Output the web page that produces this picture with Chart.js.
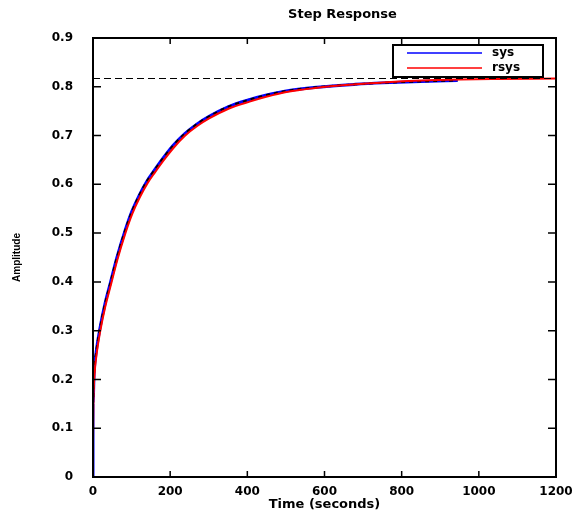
<!DOCTYPE html>
<html>
<head>
<meta charset="utf-8">
<title>Step Response</title>
<script src="https://cdn.jsdelivr.net/npm/chart.js@4/dist/chart.umd.min.js"></script>
<style>
  html, body { margin: 0; padding: 0; background: #fff; }
  #wrap { width: 575px; height: 515px; position: relative; }
</style>
</head>
<body>
<div id="wrap"><canvas id="stepChart"></canvas></div>
<script>
// ---------- Data ----------
const xTicks = [0, 200, 400, 600, 800, 1000, 1200];
const yTicks = [0, 0.1, 0.2, 0.3, 0.4, 0.5, 0.6, 0.7, 0.8, 0.9];

// sys (blue)
const sysTime = [0, 0, 3, 8, 18, 31, 44, 62, 83, 101, 120, 140, 160, 180, 208, 238, 270, 300, 350, 407, 450, 497, 580, 680, 750, 850, 945];
const sysAmp  = [0, 0.15, 0.215, 0.255, 0.305, 0.355, 0.395, 0.45, 0.505, 0.545, 0.578, 0.607, 0.630, 0.652, 0.68, 0.704, 0.724, 0.739, 0.759, 0.774, 0.783, 0.791, 0.799, 0.805, 0.808, 0.811, 0.813];

// rsys (red)
const rsysTime = [0, 1, 4, 9, 19, 32, 45, 63, 84, 102, 121, 141, 161, 181, 209, 239, 271, 301, 351, 408, 451, 498, 581, 681, 751, 851, 951, 1051, 1200];
const rsysAmp  = [0.07, 0.15, 0.21, 0.25, 0.30, 0.35, 0.39, 0.445, 0.50, 0.54, 0.573, 0.602, 0.625, 0.647, 0.675, 0.70, 0.72, 0.735, 0.755, 0.77, 0.780, 0.789, 0.798, 0.805, 0.809, 0.813, 0.815, 0.816, 0.817];

// steady-state level (black dashed)
const steadyTime = [0, 1200];
const steadyAmp  = [0.817, 0.817];

const pts = (xs, ys) => xs.map((x, i) => ({ x, y: ys[i] }));
const FONT = 'DejaVu Sans';

// ---------- Plugin: MATLAB-style box, inward ticks, title, legend ----------
const matlabFrame = {
  id: 'matlabFrame',
  afterDatasetsDraw(chart) {
    const { ctx, chartArea: a, scales } = chart;
    ctx.save();
    ctx.strokeStyle = '#000';
    ctx.lineWidth = 2;
    ctx.strokeRect(a.left, a.top, a.right - a.left, a.bottom - a.top);

    ctx.lineWidth = 1.5;
    ctx.beginPath();
    xTicks.forEach((v) => {
      const px = scales.x.getPixelForValue(v);
      ctx.moveTo(px, a.bottom); ctx.lineTo(px, a.bottom - 6);
      ctx.moveTo(px, a.top);    ctx.lineTo(px, a.top + 6);
    });
    yTicks.forEach((v) => {
      const py = scales.y.getPixelForValue(v);
      ctx.moveTo(a.left, py);  ctx.lineTo(a.left + 8, py);
      ctx.moveTo(a.right, py); ctx.lineTo(a.right - 8, py);
    });
    ctx.stroke();

    // title
    ctx.fillStyle = '#000';
    ctx.font = `bold 13px "${FONT}"`;
    ctx.textAlign = 'center';
    ctx.textBaseline = 'middle';
    ctx.fillText('Step Response', (a.left + a.right) / 2 + 18, 15);

    // legend box
    const items = chart.data.datasets.filter((d) => d.label);
    const bx = a.right - 163, by = a.top + 7, bw = 150, bh = 32;
    ctx.fillStyle = '#fff';
    ctx.fillRect(bx, by, bw, bh);
    ctx.lineWidth = 2;
    ctx.strokeRect(bx, by, bw, bh);
    ctx.font = `bold 12px "${FONT}"`;
    ctx.textAlign = 'left';
    items.forEach((d, i) => {
      const ly = by + 8 + i * 15;
      ctx.strokeStyle = d.borderColor;
      ctx.lineWidth = 1.5;
      ctx.beginPath();
      ctx.moveTo(bx + 14, ly); ctx.lineTo(bx + 89, ly);
      ctx.stroke();
      ctx.fillStyle = '#000';
      ctx.fillText(d.label, bx + 99, ly);
    });
    ctx.restore();
  },
};

// ---------- Chart ----------
function initChart() {
  const ctx = document.getElementById('stepChart').getContext('2d');
  const line = { showLine: true, pointRadius: 0, cubicInterpolationMode: 'monotone' };
  new Chart(ctx, {
    type: 'scatter',
    data: {
      datasets: [
        { ...line, label: 'sys', data: pts(sysTime, sysAmp), order: 2, borderColor: '#0000ff', borderWidth: 3 },
        { ...line, label: 'rsys', data: pts(rsysTime, rsysAmp), order: 0, borderColor: '#ff0000', borderWidth: 2 },
        { ...line, data: pts(sysTime, sysAmp), order: 1, borderColor: '#000000', borderWidth: 2, borderDash: [4, 4] },
        { ...line, data: pts(steadyTime, steadyAmp), order: -1, borderColor: '#000000', borderWidth: 1.2, borderDash: [7, 4] },
      ],
    },
    options: {
      responsive: true, maintainAspectRatio: false, animation: false,
      layout: { padding: { top: 38, right: 19, left: 0, bottom: 0 } },
      plugins: { legend: { display: false }, tooltip: { enabled: false }, title: { display: false } },
      scales: {
        x: {
          type: 'linear', min: 0, max: 1200,
          afterFit: (s) => { s.height = 38; s.paddingRight = 0; },
          afterBuildTicks: (s) => { s.ticks = xTicks.map((v) => ({ value: v })); },
          grid: { display: false, drawTicks: false },
          border: { display: false },
          ticks: { padding: 8, color: '#000', font: { family: FONT, size: 12, weight: 'bold' },
                   callback: (v) => String(v) },
          title: { display: true, text: 'Time (seconds)', color: '#000', padding: { top: 0, bottom: 3 },
                   font: { family: FONT, size: 13, weight: 'bold' } },
        },
        y: {
          type: 'linear', min: 0, max: 0.9,
          afterFit: (s) => { s.width = 93; },
          afterBuildTicks: (s) => { s.ticks = yTicks.map((v) => ({ value: v })); },
          grid: { display: false, drawTicks: false },
          border: { display: false },
          ticks: { padding: 20, color: '#000', font: { family: FONT, size: 12, weight: 'bold' },
                   callback: (v) => String(+v.toFixed(1)) },
          title: { display: true, text: 'Amplitude', color: '#000', padding: { top: 11, bottom: 0 },
                   font: { family: 'Liberation Sans', size: 10, weight: 'bold' } },
        },
      },
    },
    plugins: [matlabFrame],
  });
}

document.addEventListener('DOMContentLoaded', initChart);
</script>
</body>
</html>
